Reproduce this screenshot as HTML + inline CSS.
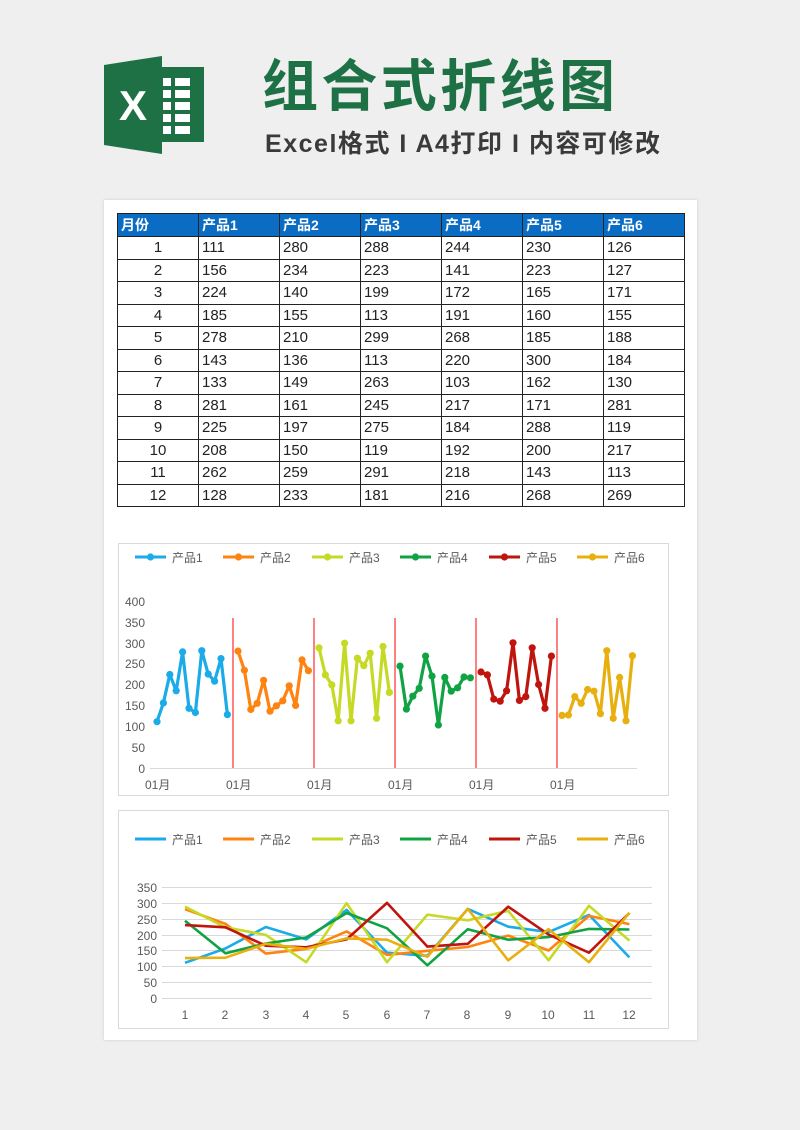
<!DOCTYPE html>
<html><head><meta charset="utf-8">
<style>
body{margin:0;width:800px;height:1130px;background:#efefef;position:relative;overflow:hidden;font-family:"Liberation Sans","Noto Sans CJK SC",sans-serif}
.abs{position:absolute}
#sheet{left:104px;top:200px;width:593px;height:840px;background:#fff;box-shadow:0 0 3px #ccc}
table{position:absolute;left:117px;top:213px;border-collapse:collapse;width:568px;table-layout:fixed}
td{border:1.3px solid #222;height:22.5px;padding:0 0 0 3px;font-size:15px;color:#222;box-sizing:border-box;width:81px}
tr.h td{background:#0a6cc3;color:#fff;font-weight:bold;font-size:14px;height:23px}
td.c{text-align:center;padding:0}
svg text{font-family:"Liberation Sans","Noto Sans CJK SC",sans-serif}
</style></head><body>
<svg class="abs" style="left:0;top:0" width="800" height="200">
<polygon points="104,65 162,56 162,154 104,145" fill="#1e7145"/>
<rect x="160" y="67" width="44" height="75" fill="#1e7145"/>
<g fill="#fff">
<rect x="163" y="78" width="8" height="8"/><rect x="175" y="78" width="15" height="8"/>
<rect x="163" y="90" width="8" height="8"/><rect x="175" y="90" width="15" height="8"/>
<rect x="163" y="102" width="8" height="8"/><rect x="175" y="102" width="15" height="8"/>
<rect x="163" y="114" width="8" height="8"/><rect x="175" y="114" width="15" height="8"/>
<rect x="163" y="126" width="8" height="8"/><rect x="175" y="126" width="15" height="8"/>
</g>
<text x="133" y="120" font-size="42" font-weight="bold" fill="#fff" text-anchor="middle">X</text>
<text x="262" y="106" font-size="56" font-weight="bold" fill="#1e7145" textLength="353">组合式折线图</text>
<text x="265" y="152" font-size="25" font-weight="bold" fill="#3a3a3a" textLength="395">Excel格式 I A4打印 I 内容可修改</text>
</svg>
<div id="sheet" class="abs"></div>
<table>
<tr class="h"><td>月份</td><td>产品1</td><td>产品2</td><td>产品3</td><td>产品4</td><td>产品5</td><td>产品6</td></tr>
<tr><td class="c">1</td><td>111</td><td>280</td><td>288</td><td>244</td><td>230</td><td>126</td></tr>
<tr><td class="c">2</td><td>156</td><td>234</td><td>223</td><td>141</td><td>223</td><td>127</td></tr>
<tr><td class="c">3</td><td>224</td><td>140</td><td>199</td><td>172</td><td>165</td><td>171</td></tr>
<tr><td class="c">4</td><td>185</td><td>155</td><td>113</td><td>191</td><td>160</td><td>155</td></tr>
<tr><td class="c">5</td><td>278</td><td>210</td><td>299</td><td>268</td><td>185</td><td>188</td></tr>
<tr><td class="c">6</td><td>143</td><td>136</td><td>113</td><td>220</td><td>300</td><td>184</td></tr>
<tr><td class="c">7</td><td>133</td><td>149</td><td>263</td><td>103</td><td>162</td><td>130</td></tr>
<tr><td class="c">8</td><td>281</td><td>161</td><td>245</td><td>217</td><td>171</td><td>281</td></tr>
<tr><td class="c">9</td><td>225</td><td>197</td><td>275</td><td>184</td><td>288</td><td>119</td></tr>
<tr><td class="c">10</td><td>208</td><td>150</td><td>119</td><td>192</td><td>200</td><td>217</td></tr>
<tr><td class="c">11</td><td>262</td><td>259</td><td>291</td><td>218</td><td>143</td><td>113</td></tr>
<tr><td class="c">12</td><td>128</td><td>233</td><td>181</td><td>216</td><td>268</td><td>269</td></tr>
</table>
<svg class="abs" style="left:0;top:0" width="800" height="1130" id="ch">
<rect x="118.5" y="543.5" width="550" height="252" fill="none" stroke="#d9d9d9"/>
<rect x="118.5" y="810.5" width="550" height="218" fill="none" stroke="#d9d9d9"/>
<g font-size="12" fill="#595959" text-anchor="end">
<text x="145" y="606">400</text><text x="145" y="627">350</text><text x="145" y="648">300</text><text x="145" y="668">250</text><text x="145" y="689">200</text><text x="145" y="710">150</text><text x="145" y="731">100</text><text x="145" y="752">50</text><text x="145" y="773">0</text>
</g>
<line x1="150" y1="768.5" x2="637" y2="768.5" stroke="#d9d9d9"/>
<g font-size="12" fill="#595959">
<text x="145" y="789">01月</text><text x="226" y="789">01月</text><text x="307" y="789">01月</text><text x="388" y="789">01月</text><text x="469" y="789">01月</text><text x="550" y="789">01月</text>
</g>
<g stroke="#ff0000" stroke-width="1">
<line x1="233" y1="618" x2="233" y2="768"/><line x1="314" y1="618" x2="314" y2="768"/><line x1="395" y1="618" x2="395" y2="768"/><line x1="476" y1="618" x2="476" y2="768"/><line x1="557" y1="618" x2="557" y2="768"/>
</g>
<g font-size="12" fill="#595959">
<text x="172" y="562">产品1</text><text x="260" y="562">产品2</text><text x="349" y="562">产品3</text><text x="437" y="562">产品4</text><text x="526" y="562">产品5</text><text x="614" y="562">产品6</text>
<text x="172" y="844">产品1</text><text x="260" y="844">产品2</text><text x="349" y="844">产品3</text><text x="437" y="844">产品4</text><text x="526" y="844">产品5</text><text x="614" y="844">产品6</text>
</g>
<g stroke="#d9d9d9">
<line x1="162" y1="887.5" x2="652" y2="887.5"/><line x1="162" y1="903.5" x2="652" y2="903.5"/><line x1="162" y1="919.5" x2="652" y2="919.5"/><line x1="162" y1="935.5" x2="652" y2="935.5"/><line x1="162" y1="950.5" x2="652" y2="950.5"/><line x1="162" y1="966.5" x2="652" y2="966.5"/><line x1="162" y1="982.5" x2="652" y2="982.5"/><line x1="162" y1="998.5" x2="652" y2="998.5"/>
</g>
<g font-size="12" fill="#595959" text-anchor="end">
<text x="157" y="892">350</text><text x="157" y="908">300</text><text x="157" y="924">250</text><text x="157" y="940">200</text><text x="157" y="955">150</text><text x="157" y="971">100</text><text x="157" y="987">50</text><text x="157" y="1003">0</text>
</g>
<g font-size="12" fill="#595959" text-anchor="middle">
<text x="185" y="1019">1</text><text x="225" y="1019">2</text><text x="266" y="1019">3</text><text x="306" y="1019">4</text><text x="346" y="1019">5</text><text x="387" y="1019">6</text><text x="427" y="1019">7</text><text x="467" y="1019">8</text><text x="508" y="1019">9</text><text x="548" y="1019">10</text><text x="589" y="1019">11</text><text x="629" y="1019">12</text>
</g>
</svg>
<script>
var D=[[111,156,224,185,278,143,133,281,225,208,262,128],[280,234,140,155,210,136,149,161,197,150,259,233],[288,223,199,113,299,113,263,245,275,119,291,181],[244,141,172,191,268,220,103,217,184,192,218,216],[230,223,165,160,185,300,162,171,288,200,143,268],[126,127,171,155,188,184,130,281,119,217,113,269]];
var C=["#1aabe8","#ff8311","#c6d925","#10a343","#c0150e","#e8b00e"];
var s=document.getElementById('ch'),h='';
var LX=[135,223,312,400,489,577];
for(var g=0;g<6;g++){
 var p=[];
 for(var i=0;i<12;i++){var x=157+g*81+i*6.4,y=768-D[g][i]*0.4175;p.push(x.toFixed(1)+','+y.toFixed(1));h+='<circle cx="'+x.toFixed(1)+'" cy="'+y.toFixed(1)+'" r="3.6" fill="'+C[g]+'"/>';}
 h+='<polyline points="'+p.join(' ')+'" fill="none" stroke="'+C[g]+'" stroke-width="3.2" stroke-linejoin="round"/>';
 h+='<line x1="'+LX[g]+'" y1="557" x2="'+(LX[g]+31)+'" y2="557" stroke="'+C[g]+'" stroke-width="3"/><circle cx="'+(LX[g]+15.5)+'" cy="557" r="3.6" fill="'+C[g]+'"/>';
 h+='<line x1="'+LX[g]+'" y1="839" x2="'+(LX[g]+31)+'" y2="839" stroke="'+C[g]+'" stroke-width="3"/>';
}
for(var g=0;g<6;g++){
 var p=[];
 for(var i=0;i<12;i++){var x=185+i*40.4,y=998-D[g][i]*0.317;p.push(x.toFixed(1)+','+y.toFixed(1));}
 h+='<polyline points="'+p.join(' ')+'" fill="none" stroke="'+C[g]+'" stroke-width="2.6" stroke-linejoin="round"/>';
}
s.insertAdjacentHTML('beforeend',h);
</script>
</body></html>
